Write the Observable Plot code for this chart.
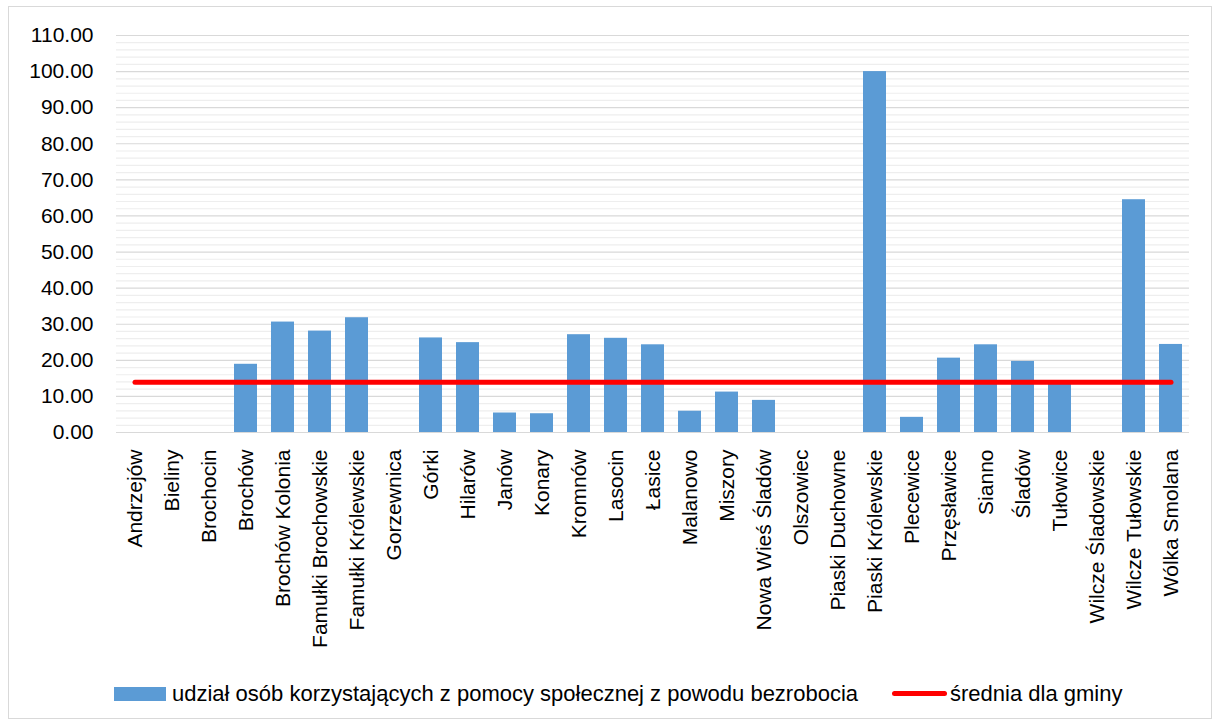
<!DOCTYPE html>
<html>
<head>
<meta charset="utf-8">
<script src="https://cdn.jsdelivr.net/npm/d3@7"></script>
<script src="https://cdn.jsdelivr.net/npm/@observablehq/plot@0.6"></script>
<style>
  html, body { margin: 0; padding: 0; background: #fff; }
  #wrap { position: relative; width: 1215px; height: 727px; font-family: "Liberation Sans", Arial, sans-serif; color: #000; }
  #frame { position: absolute; left: 8px; top: 6px; width: 1204px; height: 713px; border: 1px solid #d9d9d9; box-sizing: border-box; }
  #chart { position: absolute; left: 0; top: 0; }
  .lg { position: absolute; font-size: 22px; line-height: 24px; white-space: nowrap; }
</style>
</head>
<body>
<div id="wrap">
  <div id="frame"></div>
  <div id="chart"></div>
  <div class="lg" style="left:114px;top:687px;width:52px;height:14px;background:#5b9bd5;"></div>
  <div class="lg" id="lgBarText" style="left:172px;top:682px;"></div>
  <div class="lg" style="left:892px;top:691px;width:55px;height:5px;background:#ff0000;border-radius:3px;"></div>
  <div class="lg" id="lgLineText" style="left:950px;top:682px;"></div>
</div>
<script>
const categories = ["Andrzejów","Bieliny","Brochocin","Brochów","Brochów Kolonia","Famułki Brochowskie","Famułki Królewskie","Gorzewnica","Górki","Hilarów","Janów","Konary","Kromnów","Lasocin","Łasice","Malanowo","Miszory","Nowa Wieś Śladów","Olszowiec","Piaski Duchowne","Piaski Królewskie","Plecewice","Przęsławice","Sianno","Śladów","Tułowice","Wilcze Śladowskie","Wilcze Tułowskie","Wólka Smolana"];
const values = [0,0,0,18.9,30.6,28.1,31.8,0,26.2,24.9,5.4,5.2,27.1,26.1,24.3,5.9,11.2,8.9,0,0,100,4.2,20.6,24.3,19.7,13.6,0,64.5,24.4];
const average = 13.9;
const majorTicks = [0,10,20,30,40,50,60,70,80,90,100,110];
const minorTicks = [2,4,6,8,12,14,16,18,22,24,26,28,32,34,36,38,42,44,46,48,52,54,56,58,62,64,66,68,72,74,76,78,82,84,86,88,92,94,96,98,102,104,106,108];
const seriesBar = "udział osób korzystających z pomocy społecznej z powodu bezrobocia";
const seriesLine = "średnia dla gminy";

const data = categories.map((c, i) => ({name: c, value: values[i]}));
const avgData = categories.map(c => ({name: c, value: average}));

const chart = Plot.plot({
  width: 1215,
  height: 660,
  marginLeft: 116,
  marginRight: 26,
  marginTop: 35,
  marginBottom: 228,
  style: {fontFamily: "Liberation Sans, Arial, sans-serif", fontSize: "21px", color: "#000", background: "transparent"},
  x: {domain: categories, paddingInner: 0.39, paddingOuter: 0.195, label: null, tickSize: 0, tickRotate: -90, tickPadding: 17},
  y: {domain: [0, 110], ticks: majorTicks, tickFormat: d => d.toFixed(2), tickSize: 0, tickPadding: 23, label: null},
  marks: [
    Plot.ruleY(minorTicks, {stroke: "#eeeeee", strokeWidth: 1.2}),
    Plot.ruleY(majorTicks, {stroke: "#d9d9d9", strokeWidth: 1.2}),
    Plot.barY(data, {x: "name", y: "value", fill: "#5b9bd5"}),
    Plot.lineY(avgData, {x: "name", y: "value", stroke: "#ff0000", strokeWidth: 5, strokeLinecap: "round"})
  ]
});
document.getElementById("chart").appendChild(chart);
document.getElementById("lgBarText").textContent = seriesBar;
document.getElementById("lgLineText").textContent = seriesLine;
</script>
</body>
</html>
